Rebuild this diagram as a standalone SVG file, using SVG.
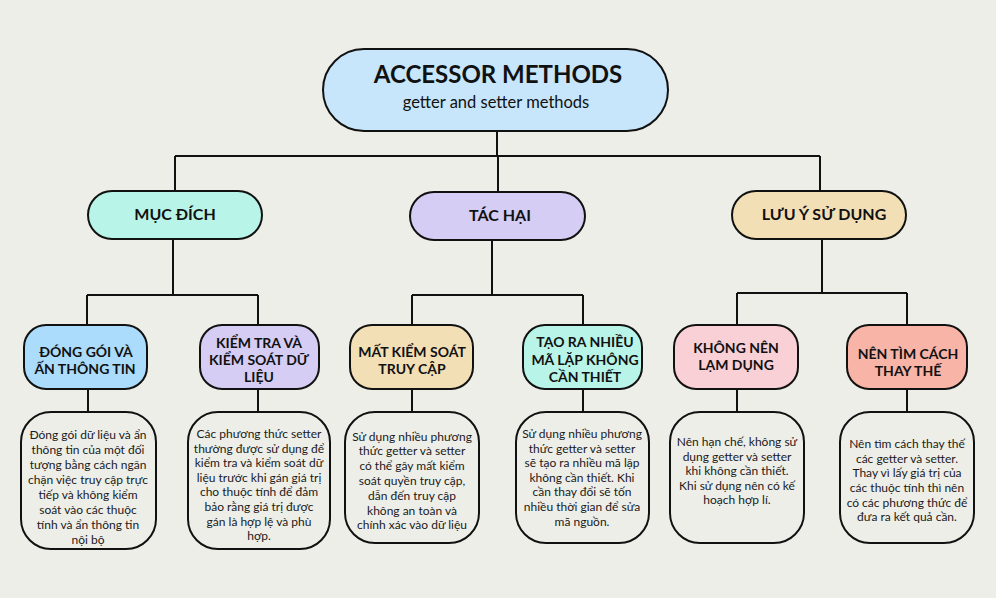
<svg xmlns="http://www.w3.org/2000/svg" width="996" height="598" viewBox="0 0 996 598">
<style>
.n{stroke:#111;stroke-width:2}
.c{fill:none;stroke:#111;stroke-width:2}
text{font-family:Lato,"Noto Sans",sans-serif;fill:#111;text-anchor:middle}
.t1{font-size:24px;font-weight:bold}
.t1s{font-size:16.5px}
.t2{font-size:16px;font-weight:bold}
.t3{font-size:14px;font-weight:bold}
.t4{font-size:12px;fill:#1a1a1a}
</style>
<rect width="996" height="598" fill="#eeeee9"/>
<g id="connectors">
<path class="c" d="M497 131V156M175 156H820M175 156V191M498 156V192M820 156V191"/>
<path class="c" d="M173 239V295M87 295H258M87 295V325M258 295V325"/>
<path class="c" d="M492 240V295M412 295H583M412 295V325M583 295V325"/>
<path class="c" d="M822 239V293M737 293H907M737 293V325M907 293V325"/>
<path class="c" d="M88 389V412M258 389V412M412 389V412M583 389V412M737 389V412M907 389V412"/>
</g>
<g id="root">
<rect class="n" x="323" y="49" width="345" height="82" rx="41" fill="#c7e6fb"/>
<text class="t1" x="498" y="83">ACCESSOR METHODS</text>
<text class="t1s" x="496" y="108">getter and setter methods</text>
</g>
<g id="muc-dich">
<rect class="n" x="88" y="191" width="174" height="48" rx="24" fill="#b8f5e8"/>
<text class="t2" x="175" y="220">MỤC ĐÍCH</text>
</g>
<g id="tac-hai">
<rect class="n" x="410" y="192" width="175" height="48" rx="24" fill="#d6cdf5"/>
<text class="t2" x="500" y="221">TÁC HẠI</text>
</g>
<g id="luu-y">
<rect class="n" x="732" y="191" width="174" height="48" rx="24" fill="#f3dfb6"/>
<text class="t2" x="824" y="220">LƯU Ý SỬ DỤNG</text>
</g>
<g id="dong-goi">
<rect class="n" x="24" y="325" width="123" height="64" rx="22" fill="#abdcfc"/>
<text class="t3" x="86" y="357">ĐÓNG GÓI VÀ</text>
<text class="t3" x="85" y="374">ẤN THÔNG TIN</text>
</g>
<g id="kiem-tra">
<rect class="n" x="200" y="325" width="119" height="64" rx="22" fill="#d6cdf5"/>
<text class="t3" x="259" y="348">KIỂM TRA VÀ</text>
<text class="t3" x="259" y="365">KIỂM SOÁT DỮ</text>
<text class="t3" x="259" y="382">LIỆU</text>
</g>
<g id="mat-kiem-soat">
<rect class="n" x="350" y="325" width="123" height="64" rx="22" fill="#f3dfb6"/>
<text class="t3" x="412" y="357">MẤT KIỂM SOÁT</text>
<text class="t3" x="412" y="374">TRUY CẬP</text>
</g>
<g id="tao-ra">
<rect class="n" x="523" y="325" width="119" height="64" rx="22" fill="#b8f5e8"/>
<text class="t3" x="585" y="347">TẠO RA NHIỀU</text>
<text class="t3" x="585" y="365">MÃ LẶP KHÔNG</text>
<text class="t3" x="585" y="382">CẦN THIẾT</text>
</g>
<g id="khong-nen">
<rect class="n" x="674" y="325" width="124" height="64" rx="22" fill="#f9d0d6"/>
<text class="t3" x="736" y="353">KHÔNG NÊN</text>
<text class="t3" x="736" y="370">LẠM DỤNG</text>
</g>
<g id="nen-tim">
<rect class="n" x="847" y="325" width="120" height="64" rx="22" fill="#f8b4a6"/>
<text class="t3" x="908" y="359">NÊN TÌM CÁCH</text>
<text class="t3" x="908" y="376">THAY THẾ</text>
</g>
<g id="desc-1">
<rect class="n" x="21" y="412" width="135" height="137" rx="30" fill="#eeeee9"/>
<text class="t4" x="88" y="439">Đóng gói dữ liệu và ẩn</text>
<text class="t4" x="88" y="454">thông tin của một đối</text>
<text class="t4" x="88" y="469">tượng bằng cách ngăn</text>
<text class="t4" x="88" y="484">chặn việc truy cập trực</text>
<text class="t4" x="88" y="499">tiếp và không kiểm</text>
<text class="t4" x="88" y="514">soát vào các thuộc</text>
<text class="t4" x="88" y="529">tính và ẩn thông tin</text>
<text class="t4" x="88" y="544">nội bộ</text>
</g>
<g id="desc-2">
<rect class="n" x="188" y="412" width="142" height="137" rx="30" fill="#eeeee9"/>
<text class="t4" x="259" y="438">Các phương thức setter</text>
<text class="t4" x="259" y="453">thường được sử dụng để</text>
<text class="t4" x="259" y="467">kiểm tra và kiểm soát dữ</text>
<text class="t4" x="259" y="482">liệu trước khi gán giá trị</text>
<text class="t4" x="259" y="496">cho thuộc tính để đảm</text>
<text class="t4" x="259" y="511">bảo rằng giá trị được</text>
<text class="t4" x="259" y="526">gán là hợp lệ và phù</text>
<text class="t4" x="259" y="540">hợp.</text>
</g>
<g id="desc-3">
<rect class="n" x="345" y="412" width="134" height="131" rx="30" fill="#eeeee9"/>
<text class="t4" x="412" y="441">Sử dụng nhiều phương</text>
<text class="t4" x="412" y="455">thức getter và setter</text>
<text class="t4" x="412" y="470">có thể gây mất kiểm</text>
<text class="t4" x="412" y="485">soát quyền truy cập,</text>
<text class="t4" x="412" y="500">dẫn đến truy cập</text>
<text class="t4" x="412" y="515">không an toàn và</text>
<text class="t4" x="412" y="529">chính xác vào dữ liệu</text>
</g>
<g id="desc-4">
<rect class="n" x="516" y="412" width="133" height="131" rx="30" fill="#eeeee9"/>
<text class="t4" x="582" y="438">Sử dụng nhiều phương</text>
<text class="t4" x="582" y="453">thức getter và setter</text>
<text class="t4" x="582" y="467">sẽ tạo ra nhiều mã lặp</text>
<text class="t4" x="582" y="482">không cần thiết. Khi</text>
<text class="t4" x="582" y="496">cần thay đổi sẽ tốn</text>
<text class="t4" x="582" y="511">nhiều thời gian để sửa</text>
<text class="t4" x="582" y="526">mã nguồn.</text>
</g>
<g id="desc-5">
<rect class="n" x="670" y="412" width="134" height="131" rx="30" fill="#eeeee9"/>
<text class="t4" x="737" y="446">Nên hạn chế, không sử</text>
<text class="t4" x="737" y="461">dụng getter và setter</text>
<text class="t4" x="737" y="475">khi không cần thiết.</text>
<text class="t4" x="737" y="490">Khi sử dụng nên có kế</text>
<text class="t4" x="737" y="504">hoạch hợp lí.</text>
</g>
<g id="desc-6">
<rect class="n" x="840" y="412" width="134" height="131" rx="30" fill="#eeeee9"/>
<text class="t4" x="907" y="448">Nên tìm cách thay thế</text>
<text class="t4" x="907" y="463">các getter và setter.</text>
<text class="t4" x="907" y="477">Thay vì lấy giá trị của</text>
<text class="t4" x="907" y="492">các thuộc tính thì nên</text>
<text class="t4" x="907" y="507">có các phương thức để</text>
<text class="t4" x="907" y="521">đưa ra kết quả cần.</text>
</g>
</svg>
